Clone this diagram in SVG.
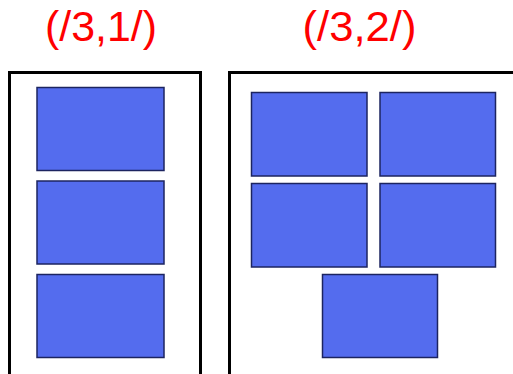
<svg xmlns="http://www.w3.org/2000/svg" width="513" height="374" viewBox="0 0 513 374">
<style>
.t{font-family:"Liberation Sans",Arial,sans-serif;font-size:42px;fill:#ff0000;text-anchor:middle}
.f{fill:#ffffff;stroke:#000000;stroke-width:3}
.b{fill:#546cee;stroke:#1c2460;stroke-width:1.5}
</style>
<rect width="513" height="374" fill="#ffffff"/>
<text class="t" x="101" y="41" textLength="112" lengthAdjust="spacingAndGlyphs">(/3,1/)</text>
<text class="t" x="359.5" y="41" textLength="114" lengthAdjust="spacingAndGlyphs">(/3,2/)</text>
<g id="frame1">
<rect class="f" x="9.5" y="72.5" width="191" height="310"/>
<rect class="b" x="37" y="87.5" width="127" height="83"/>
<rect class="b" x="37" y="181" width="127" height="83"/>
<rect class="b" x="37" y="274.5" width="127" height="83"/>
</g>
<g id="frame2">
<rect class="f" x="229.5" y="72.5" width="300" height="310"/>
<rect class="b" x="251.5" y="92.5" width="115.5" height="83.5"/>
<rect class="b" x="380" y="92.5" width="115.5" height="83.5"/>
<rect class="b" x="251.5" y="183.5" width="115.5" height="83.5"/>
<rect class="b" x="380" y="183.5" width="115.5" height="83.5"/>
<rect class="b" x="322.5" y="274.5" width="115" height="83"/>
</g>
</svg>
